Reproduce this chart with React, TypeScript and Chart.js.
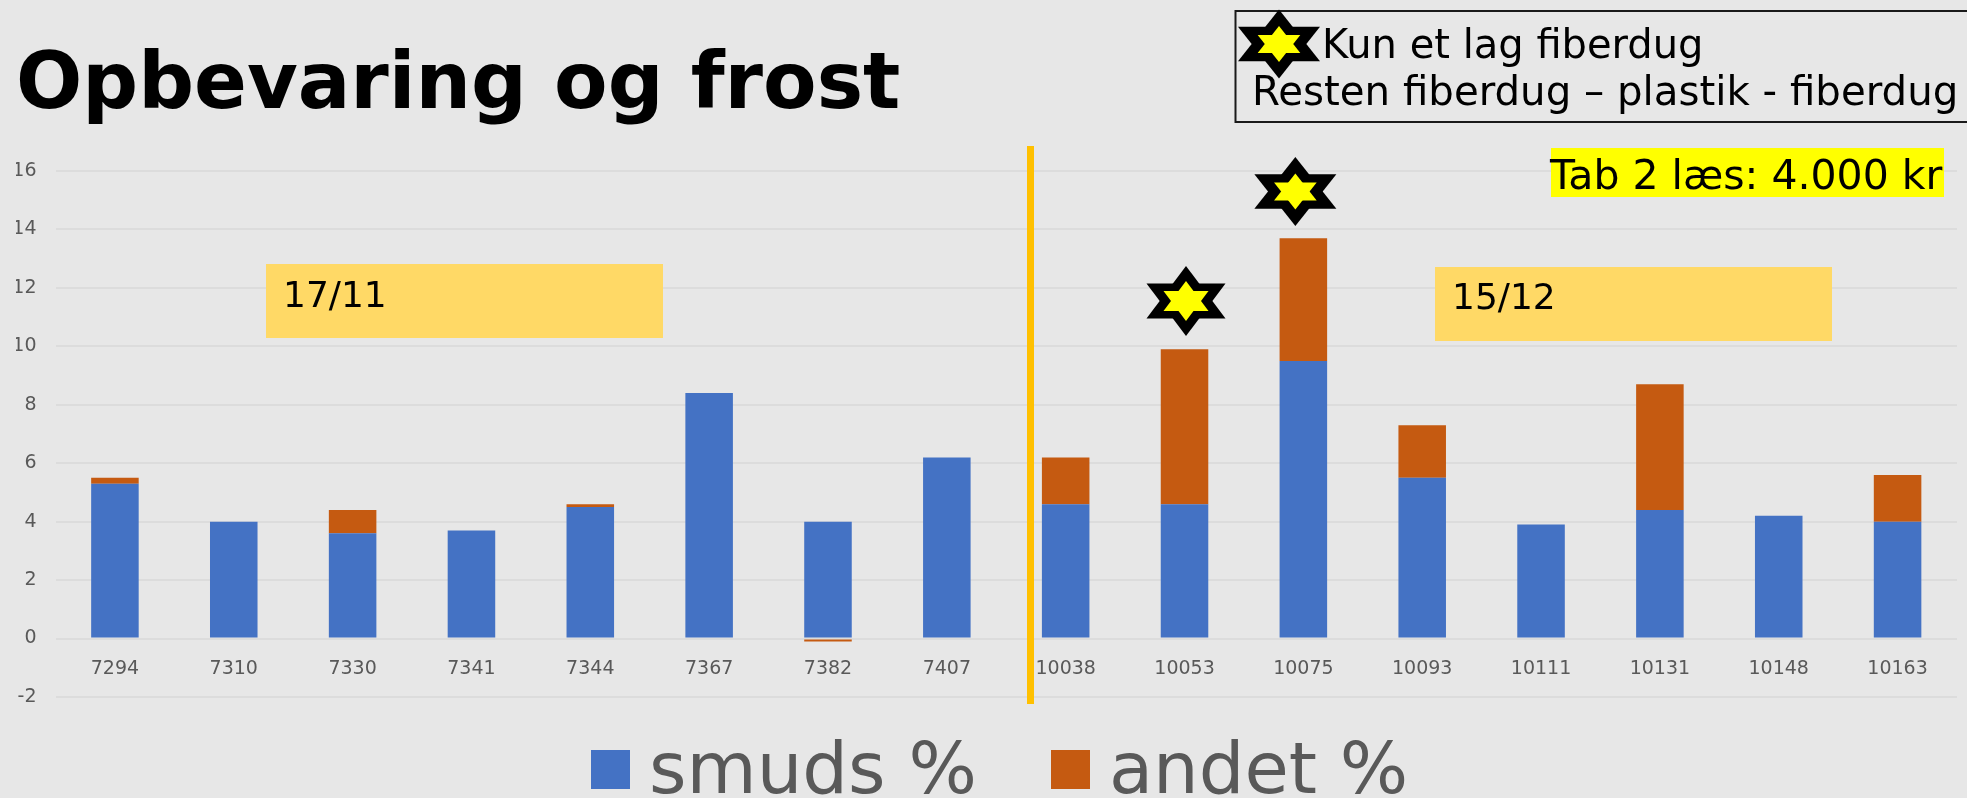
import React, { useEffect, useRef } from "react";
import { Chart, registerables } from "chart.js";

Chart.register(...registerables);

const categories = ["7294", "7310", "7330", "7341", "7344", "7367", "7382", "7407", "10038", "10053", "10075", "10093", "10111", "10131", "10148", "10163"];
const smuds = [5.3, 4.0, 3.6, 3.7, 4.5, 8.4, 4.0, 6.2, 4.6, 4.6, 9.5, 5.5, 3.9, 4.4, 4.2, 4.0];
const andet = [0.2, 0, 0.8, 0, 0.1, 0, -0.1, 0, 1.6, 5.3, 4.2, 1.8, 0, 4.3, 0, 1.6];
const seriesNames = ["smuds %", "andet %"];
const seriesColors = ["#4472C4", "#C55A11"];
const titleText = "Opbevaring og frost";
const noteLines = ["Kun et lag fiberdug", "Resten fiberdug – plastik - fiberdug"];
const priceText = "Tab 2 læs: 4.000 kr";
const dateLabels = ["17/11", "15/12"];
const FONT = '"DejaVu Sans", sans-serif';

function star(ctx: CanvasRenderingContext2D, cx: number, cy: number, rx: number, ry: number) {
  const tri = (start: number) => {
    ctx.beginPath();
    for (let i = 0; i < 3; i++) {
      const a = start + (i * 2 * Math.PI) / 3;
      const x = cx + rx * Math.cos(a);
      const y = cy + ry * Math.sin(a);
      if (i === 0) ctx.moveTo(x, y);
      else ctx.lineTo(x, y);
    }
    ctx.closePath();
    ctx.fill();
  };
  tri(-Math.PI / 2);
  tri(Math.PI / 2);
}

function fullStar(ctx: CanvasRenderingContext2D, cx: number, cy: number, w: number, h: number, inner: number) {
  ctx.fillStyle = "#000000";
  star(ctx, cx, cy, w / 1.732, h / 2);
  ctx.fillStyle = "#FFFF00";
  star(ctx, cx, cy, (w * inner) / 1.732, (h * inner) / 2);
}

const overlay = {
  id: "overlay",
  afterDatasetsDraw(chart: any) {
    const { ctx, scales } = chart;
    ctx.save();
    ctx.textAlign = "left";
    ctx.textBaseline = "alphabetic";

    // vertical divider
    ctx.fillStyle = "#FFC000";
    ctx.fillRect(1027, 146, 7, 558);

    // date boxes
    ctx.fillStyle = "#FFD966";
    ctx.fillRect(266, 264, 397, 74);
    ctx.fillRect(1435, 267, 397, 74);
    ctx.fillStyle = "#000000";
    ctx.font = `36px ${FONT}`;
    ctx.fillText(dateLabels[0], 283, 307);
    ctx.fillText(dateLabels[1], 1452, 309);

    // price box
    ctx.fillStyle = "#FFFF00";
    ctx.fillRect(1551, 148, 393, 49);
    ctx.fillStyle = "#000000";
    ctx.font = `41px ${FONT}`;
    ctx.fillText(priceText, 1550, 189);

    // note box
    ctx.strokeStyle = "#1a1a1a";
    ctx.lineWidth = 2;
    ctx.strokeRect(1235.5, 11, 740, 111);
    ctx.fillStyle = "#000000";
    ctx.font = `40px ${FONT}`;
    ctx.fillText(noteLines[0], 1322, 58);
    ctx.font = `40.3px ${FONT}`;
    ctx.fillText(noteLines[1], 1252, 105);
    fullStar(ctx, 1279, 44, 82, 69, 0.52);

    // stars above the two single-layer bars
    fullStar(ctx, scales.x.getPixelForValue(9) + 1.5, scales.y.getPixelForValue(11.55), 79, 70, 0.57);
    fullStar(ctx, scales.x.getPixelForValue(10) - 8, scales.y.getPixelForValue(15.3), 82, 69, 0.52);

    // legend
    ctx.font = `72px ${FONT}`;
    ctx.fillStyle = seriesColors[0];
    ctx.fillRect(591, 750, 39, 39);
    ctx.fillStyle = seriesColors[1];
    ctx.fillRect(1051, 750, 39, 39);
    ctx.fillStyle = "#595959";
    ctx.fillText(seriesNames[0], 649, 793);
    ctx.fillText(seriesNames[1], 1109, 793);
    ctx.restore();
  },
};

export default function App() {
  const ref = useRef<HTMLCanvasElement>(null);
  useEffect(() => {
    const chart = new Chart(ref.current as HTMLCanvasElement, {
      type: "bar",
      data: {
        labels: categories,
        datasets: [
          { label: seriesNames[0], data: smuds, backgroundColor: seriesColors[0] },
          { label: seriesNames[1], data: andet, backgroundColor: seriesColors[1] },
        ],
      },
      options: {
        responsive: false,
        animation: false,
        layout: { padding: { left: 16, right: 10, top: 0, bottom: 101 } },
        datasets: { bar: { categoryPercentage: 1, barPercentage: 0.4 } },
        plugins: {
          legend: { display: false },
          tooltip: { enabled: false },
          title: {
            display: true,
            text: titleText,
            align: "start",
            color: "#000000",
            font: { family: FONT, size: 78, weight: "bold", lineHeight: 1 },
            padding: { top: 49, bottom: 44 },
          },
        },
        scales: {
          x: {
            stacked: true,
            position: { y: 0 },
            grid: { display: false },
            border: { display: false },
            ticks: { color: "#595959", font: { family: FONT, size: 19 }, padding: 11, maxRotation: 0, autoSkip: false },
          },
          y: {
            stacked: true,
            min: -2,
            max: 16,
            afterFit(s: any) { s.width = 39.5; },
            grid: { color: "#DCDCDC", lineWidth: 2, drawTicks: false },
            border: { display: false },
            ticks: { stepSize: 2, color: "#595959", font: { family: FONT, size: 19 }, padding: 19 },
          },
        },
      },
      plugins: [
        { id: "bg", beforeDraw(c: any) { c.ctx.save(); c.ctx.fillStyle = "#E7E7E7"; c.ctx.fillRect(0, 0, c.width, c.height); c.ctx.restore(); } },
        overlay,
      ],
    } as any);
    return () => chart.destroy();
  }, []);
  return (
    <div style={{ position: "absolute", left: 0, top: 0, width: 1967, height: 798, overflow: "hidden" }}>
      <canvas ref={ref} width={1967} height={798} style={{ display: "block" }} />
    </div>
  );
}
